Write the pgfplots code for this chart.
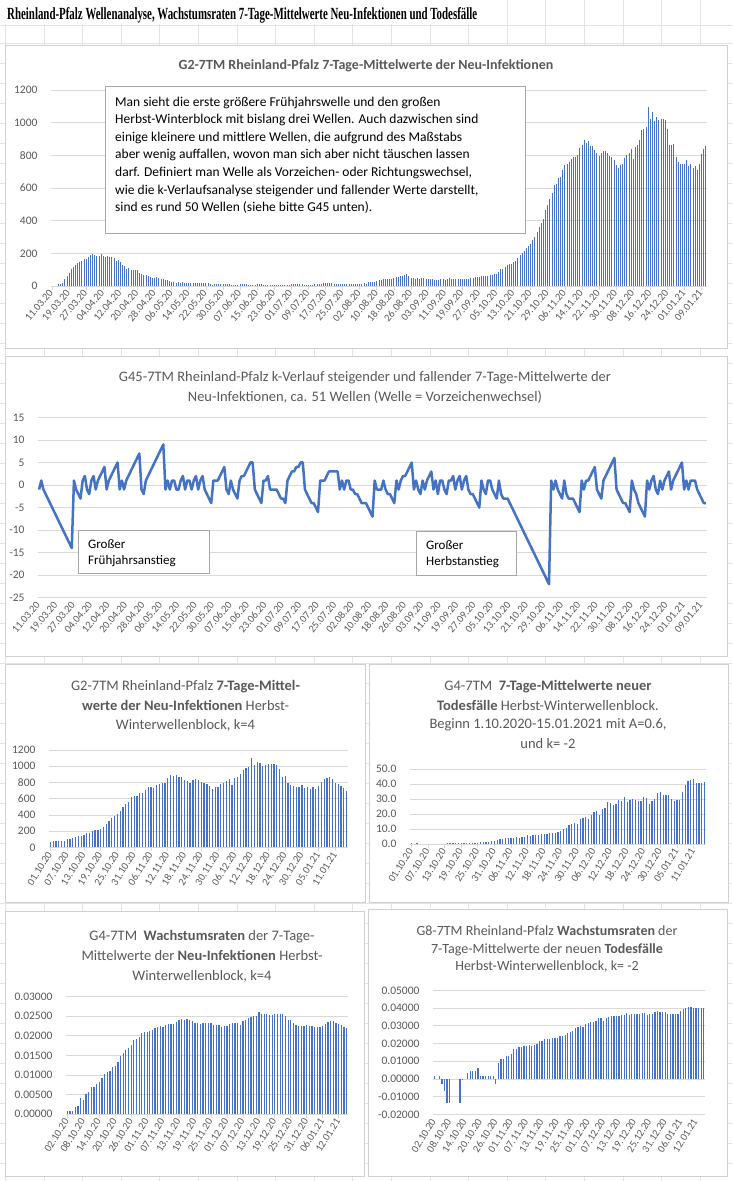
\documentclass[border=0pt]{standalone}
\usepackage{fontspec}
\setmainfont{Carlito}
\newfontfamily\timesfont{Liberation Serif}
\usepackage{pgfplots}
\pgfplotsset{compat=1.18}
\usepackage{pgfplotstable}

\definecolor{bar}{HTML}{4472C4}
\definecolor{txt}{HTML}{595959}
\definecolor{gridc}{HTML}{D9D9D9}
\definecolor{frame}{HTML}{D0D0D0}
\definecolor{cell}{HTML}{E3E3E3}
\definecolor{boxc}{HTML}{A6A6A6}

% G2: 7-day means of new infections, 11.03.20 .. 11.01.21 (one value per day)
\pgfplotstableread[row sep=\\]{y\\
0\\0\\0\\10\\10\\18\\40\\60\\82\\103\\117\\128\\138\\146\\152\\163\\165\\175\\190\\196\\
190\\183\\185\\196\\183\\179\\183\\179\\175\\173\\155\\159\\144\\128\\122\\107\\113\\101\\101\\97\\
95\\82\\76\\70\\70\\62\\56\\51\\49\\56\\49\\45\\43\\39\\35\\29\\25\\23\\21\\
23\\19\\23\\19\\19\\17\\17\\17\\21\\17\\17\\17\\17\\17\\17\\12\\8\\
10\\12\\12\\12\\12\\12\\10\\10\\8\\8\\8\\8\\12\\12\\12\\10\\8\\8\\8\\8\\10\\10\\10\\8\\8\\8\\8\\8\\8\\8\\8\\8\\
6\\6\\6\\8\\10\\10\\10\\10\\10\\10\\6\\5\\5\\5\\8\\10\\10\\14\\14\\18\\18\\18\\18\\18\\14\\
10\\10\\10\\10\\10\\10\\10\\10\\10\\10\\10\\12\\12\\18\\10\\25\\25\\25\\27\\32\\35\\35\\
41\\43\\45\\45\\43\\50\\55\\58\\60\\62\\66\\72\\60\\52\\52\\41\\49\\45\\49\\49\\45\\41\\
45\\45\\39\\39\\39\\45\\45\\38\\45\\52\\45\\45\\45\\45\\45\\45\\45\\45\\45\\50\\50\\
54\\54\\54\\60\\60\\60\\60\\66\\
69\\71\\75\\86\\102\\106\\114\\126\\133\\137\\
147\\155\\171\\188\\204\\212\\233\\243\\259\\279\\
300\\330\\361\\386\\412\\463\\498\\534\\569\\616\\
626\\661\\667\\708\\738\\745\\759\\775\\790\\790\\
800\\845\\861\\891\\877\\885\\857\\857\\830\\816\\
794\\816\\824\\824\\816\\796\\790\\769\\738\\722\\
743\\749\\783\\800\\816\\840\\779\\851\\861\\891\\
957\\963\\973\\1095\\1024\\1065\\1008\\1034\\1014\\1024\\
1020\\1014\\963\\861\\861\\871\\790\\759\\749\\745\\
745\\769\\734\\749\\722\\734\\708\\749\\810\\840\\
855\\
}\tA

% G45: k-course of rising and falling 7-day means
\pgfplotstableread[row sep=\\]{y\\
-1\\1\\-1\\-2\\-3\\-4\\-5\\-6\\-7\\-8\\-9\\-10\\-11\\-12\\-13\\-14\\1\\
-1\\-2\\-3\\1\\2\\-1\\-2\\1\\2\\-1\\1\\2\\3\\4\\
-1\\1\\2\\3\\4\\5\\-1\\1\\-1\\
1\\2\\3\\4\\5\\6\\7\\
-1\\-2\\1\\2\\3\\4\\5\\6\\7\\8\\9\\
-1\\1\\-1\\1\\1\\-1\\-1\\1\\2\\-1\\1\\1\\-1\\1\\2\\-1\\1\\2\\
-1\\-2\\-3\\-4\\1\\1\\1\\2\\3\\4\\-1\\-2\\1\\-1\\-2\\-3\\
1\\2\\2\\3\\4\\5\\5\\-1\\-2\\-3\\-4\\1\\1\\2\\
-1\\-1\\-1\\-1\\-2\\-3\\-3\\-4\\1\\2\\3\\3\\4\\4\\5\\5\\
-1\\-2\\-3\\-4\\-4\\-5\\-6\\1\\1\\1\\2\\3\\3\\3\\3\\3\\
-1\\1\\-1\\1\\1\\-1\\-1\\-2\\-2\\-3\\-4\\-4\\-4\\
-5\\-6\\-7\\1\\-1\\-1\\-1\\1\\-1\\-2\\-2\\-3\\-4\\
1\\-1\\1\\2\\2\\3\\4\\5\\-1\\1\\-1\\-2\\1\\-1\\1\\2\\3\\
-1\\1\\-2\\1\\1\\-1\\-2\\1\\1\\2\\-1\\1\\2\\-1\\1\\2\\
-1\\-2\\-2\\-3\\-4\\-5\\1\\-1\\-2\\1\\1\\-1\\-2\\-3\\1\\-2\\-3\\-3\\-3\\
-4\\-5\\-6\\-7\\-8\\-9\\-10\\-11\\-12\\-13\\-14\\-15\\-16\\-17\\-18\\-19\\-20\\-21\\-22\\
1\\-1\\1\\-1\\-2\\-3\\1\\-2\\-3\\-3\\-3\\-4\\-5\\-6\\
1\\-1\\1\\1\\2\\3\\4\\-1\\-2\\-3\\1\\2\\3\\4\\5\\6\\
-1\\-2\\-3\\-4\\-4\\-5\\-6\\1\\-1\\-2\\-4\\-5\\-6\\-7\\
1\\-1\\1\\2\\-1\\-2\\1\\-1\\1\\2\\3\\-1\\1\\2\\3\\4\\5\\
-1\\1\\-1\\1\\1\\1\\-1\\-2\\-3\\-4\\-4\\
}\tB

% G2 autumn/winter block, 01.10.20 .. 15.01.21
\pgfplotstableread[row sep=\\]{y\\
70\\78\\78\\78\\78\\78\\103\\103\\119\\132\\
140\\144\\156\\173\\181\\201\\214\\214\\230\\247\\
288\\321\\358\\390\\411\\452\\501\\534\\563\\617\\
633\\633\\674\\674\\707\\748\\740\\727\\764\\781\\
789\\797\\851\\892\\880\\892\\871\\863\\830\\818\\
797\\830\\838\\830\\810\\789\\781\\756\\715\\748\\
748\\781\\797\\822\\838\\769\\851\\871\\904\\953\\
974\\986\\1097\\1015\\1056\\1036\\1003\\1015\\1023\\1023\\
1023\\1015\\962\\863\\880\\797\\769\\756\\748\\748\\
769\\727\\740\\715\\740\\715\\760\\810\\838\\851\\
863\\838\\797\\781\\756\\727\\699\\
}\tC

% G4: 7-day means of new deaths, 01.10.20 .. 15.01.21
\pgfplotstableread[row sep=\\]{y\\
0.8\\0\\0.8\\0\\0\\0\\0\\0\\0\\0\\0\\0\\0\\
0.6\\0.6\\0.6\\0.6\\0.6\\0.6\\0.6\\0.6\\0.6\\0.6\\0.6\\0.6\\
1.2\\1.2\\1.5\\1.5\\2.0\\2.2\\3.0\\3.3\\3.5\\3.8\\
4.0\\4.0\\4.2\\4.7\\4.0\\4.5\\5.0\\6.0\\5.5\\6.0\\
6.0\\6.2\\6.5\\6.8\\7.0\\7.2\\7.5\\7.5\\8.0\\9.0\\
10.2\\10.5\\12.8\\13.5\\14.2\\13.5\\16.5\\17.5\\18.0\\17.0\\
19.5\\21.5\\22.2\\19.5\\23.5\\24.2\\28.2\\27.5\\25.8\\26.5\\
29.5\\28.8\\31.3\\28.3\\29.5\\30.0\\29.5\\28.8\\29.0\\31.3\\
30.8\\27.0\\29.0\\30.0\\34.0\\34.5\\32.8\\32.8\\32.8\\30.0\\
29.0\\29.5\\29.5\\34.8\\39.8\\42.3\\43.0\\43.7\\41.0\\41.0\\
41.0\\41.8\\
}\tD

% G4: growth rates of the 7-day means of new infections, 02.10.20 .. 15.01.21
\pgfplotstableread[row sep=\\]{y\\
0.0008\\0.0008\\0.0008\\0.0017\\0.0020\\0.0040\\0.0037\\0.0050\\0.0056\\0.0068\\
0.0068\\0.0078\\0.0083\\0.0091\\0.0102\\0.0108\\0.0110\\0.0119\\0.0124\\0.0132\\
0.0148\\0.0155\\0.0164\\0.0168\\0.0176\\0.0189\\0.0193\\0.0198\\0.0206\\0.0209\\
0.0210\\0.0213\\0.0215\\0.0219\\0.0223\\0.0225\\0.0223\\0.0227\\0.0229\\0.0229\\
0.0229\\0.0236\\0.0240\\0.0243\\0.0240\\0.0242\\0.0240\\0.0239\\0.0234\\0.0234\\
0.0230\\0.0233\\0.0233\\0.0233\\0.0232\\0.0228\\0.0228\\0.0227\\0.0223\\0.0225\\
0.0225\\0.0230\\0.0233\\0.0234\\0.0234\\0.0227\\0.0239\\0.0240\\0.0245\\0.0249\\
0.0250\\0.0250\\0.0260\\0.0255\\0.0257\\0.0256\\0.0253\\0.0253\\0.0255\\0.0255\\
0.0256\\0.0255\\0.0250\\0.0240\\0.0240\\0.0232\\0.0227\\0.0225\\0.0225\\0.0225\\
0.0227\\0.0225\\0.0225\\0.0223\\0.0223\\0.0222\\0.0225\\0.0230\\0.0236\\0.0238\\
0.0239\\0.0234\\0.0230\\0.0228\\0.0223\\0.0219\\
}\tE

% G8: growth rates of the 7-day means of new deaths, 02.10.20 .. 15.01.21
\pgfplotstableread[row sep=\\]{y\\
0.0018\\0\\0.0018\\-0.0030\\-0.0068\\-0.0135\\-0.0135\\0\\0\\0\\
-0.0135\\-0.0005\\0\\0.0034\\0.0045\\0.0045\\0.0045\\0.0062\\0.0018\\0.0018\\
0.0018\\0.0018\\0.0018\\0.0018\\-0.0030\\0.0092\\0.0113\\0.0113\\0.0130\\0.0130\\
0.0141\\0.0169\\0.0169\\0.0182\\0.0182\\0.0186\\0.0186\\0.0194\\0.0188\\0.0194\\
0.0197\\0.0212\\0.0212\\0.0224\\0.0224\\0.0224\\0.0229\\0.0233\\0.0233\\0.0243\\
0.0243\\0.0248\\0.0258\\0.0263\\0.0271\\0.0290\\0.0295\\0.0301\\0.0295\\0.0312\\
0.0318\\0.0320\\0.0323\\0.0329\\0.0342\\0.0342\\0.0327\\0.0344\\0.0348\\0.0357\\
0.0357\\0.0353\\0.0353\\0.0363\\0.0363\\0.0370\\0.0363\\0.0367\\0.0367\\0.0367\\
0.0367\\0.0370\\0.0370\\0.0363\\0.0367\\0.0367\\0.0376\\0.0382\\0.0378\\0.0378\\
0.0378\\0.0367\\0.0367\\0.0367\\0.0367\\0.0367\\0.0384\\0.0395\\0.0402\\0.0406\\
0.0408\\0.0400\\0.0400\\0.0400\\0.0400\\0.0400\\
}\tF

\pgfplotsset{
  panel/.style={
    scale only axis, anchor=south west, clip=false,
    axis line style={draw=none},
    ymajorgrids, grid style={draw=gridc, line width=0.75pt},
    xtick pos=bottom, ytick pos=left,
    xtick style={draw=gridc, line width=0.75pt},
    ytick style={draw=none},
    major tick length=4pt, tick align=outside,
    tick label style={font=\fontsize{11.5}{13}\selectfont, text=txt},
    xticklabel style={font=\fontsize{10.5}{12}\selectfont, rotate=58, anchor=east, inner sep=1.5pt},
    yticklabel style={xshift=-6pt},
    /pgf/number format/assume math mode=true,
    /pgf/number format/1000 sep={},
  },
  longdates/.style={
    xmin=-0.5, xmax=306.5, xtick={0,8,...,304},
    xticklabel style={rotate=-8},
    xticklabels={11.03.20,19.03.20,27.03.20,04.04.20,12.04.20,20.04.20,28.04.20,06.05.20,14.05.20,22.05.20,30.05.20,07.06.20,15.06.20,23.06.20,01.07.20,09.07.20,17.07.20,25.07.20,02.08.20,10.08.20,18.08.20,26.08.20,03.09.20,11.09.20,19.09.20,27.09.20,05.10.20,13.10.20,21.10.20,29.10.20,06.11.20,14.11.20,22.11.20,30.11.20,08.12.20,16.12.20,24.12.20,01.01.21,09.01.21},
  },
  octdates/.style={
    xmin=-0.5, xmax=106.5, xtick={0,6,...,102},
    xticklabels={01.10.20,07.10.20,13.10.20,19.10.20,25.10.20,31.10.20,06.11.20,12.11.20,18.11.20,24.11.20,30.11.20,06.12.20,12.12.20,18.12.20,24.12.20,30.12.20,05.01.21,11.01.21},
  },
  rate dates/.style={
    xmin=-0.5, xmax=105.5, xtick={0,6,...,102},
    xticklabels={02.10.20,08.10.20,14.10.20,20.10.20,26.10.20,01.11.20,07.11.20,13.11.20,19.11.20,25.11.20,01.12.20,07.12.20,13.12.20,19.12.20,25.12.20,31.12.20,06.01.21,12.01.21},
  },
}

\begin{document}
\begin{tikzpicture}
\useasboundingbox (0,0) rectangle (732pt,-1181pt);
\fill[white] (0,0) rectangle (732pt,-1181pt);
% spreadsheet cells behind the charts
\foreach \k in {0,...,18}
  \draw[cell, line width=0.8pt] ({(5.4+38.6*\k)*1pt},0) -- ({(5.4+38.6*\k)*1pt},-1181pt);
\draw[cell, line width=0.8pt] (0,-25pt) -- (732pt,-25pt);
\foreach \k in {0,...,57}
  \draw[cell, line width=0.8pt] (0,{-(43+20*\k)*1pt}) -- (732pt,{-(43+20*\k)*1pt});
\fill[white] (0,0) rectangle (479pt,-24.4pt);
\node[anchor=base west, inner sep=0pt] at (7pt,-19.5pt)
  {\resizebox{470pt}{12pt}{\timesfont\bfseries Rheinland-Pfalz Wellenanalyse, Wachstumsraten 7-Tage-Mittelwerte Neu-Infektionen und Todesfälle}};

% chart frames
\filldraw[fill=white, draw=frame, line width=0.8pt] (5.5pt,-45pt) rectangle (727pt,-348pt);
\filldraw[fill=white, draw=frame, line width=0.8pt] (5.5pt,-356pt) rectangle (727pt,-656pt);
\filldraw[fill=white, draw=frame, line width=0.8pt] (5.5pt,-664pt) rectangle (365pt,-902pt);
\filldraw[fill=white, draw=frame, line width=0.8pt] (369pt,-664pt) rectangle (728pt,-902pt);
\filldraw[fill=white, draw=frame, line width=0.8pt] (5.5pt,-911pt) rectangle (364pt,-1176pt);
\filldraw[fill=white, draw=frame, line width=0.8pt] (368pt,-909pt) rectangle (727pt,-1176pt);

% ---- G2 full period
\begin{axis}[panel, longdates, at={(51pt,-286pt)}, width=656pt, height=196pt,
  ymin=0, ymax=1200, ytick={0,200,...,1200}]
\addplot[ycomb, draw=bar, line width=1.0pt, mark=none] table[x expr=\coordindex, y=y]{\tA};
\end{axis}
\node[anchor=base, font=\fontsize{14}{16}\selectfont\bfseries, text=txt] at (366pt,-69pt)
  {G2-7TM Rheinland-Pfalz 7-Tage-Mittelwerte der Neu-Infektionen};
\filldraw[fill=white, draw=boxc, line width=0.8pt] (105.7pt,-86pt) rectangle (525pt,-233pt);
\begin{scope}[every node/.style={anchor=base west, inner sep=0pt, font=\fontsize{13.5}{16}\selectfont}]
\node at (115pt,-106pt) {Man sieht die erste größere Frühjahrswelle und den großen};
\node at (115pt,-123.6pt) {Herbst-Winterblock mit bislang drei Wellen. Auch dazwischen sind};
\node at (115pt,-141.2pt) {einige kleinere und mittlere Wellen, die aufgrund des Maßstabs};
\node at (115pt,-158.8pt) {aber wenig auffallen, wovon man sich aber nicht täuschen lassen};
\node at (115pt,-176.4pt) {darf. Definiert man Welle als Vorzeichen- oder Richtungswechsel,};
\node at (115pt,-194pt) {wie die k-Verlaufsanalyse steigender und fallender Werte darstellt,};
\node at (115pt,-211.6pt) {sind es rund 50 Wellen (siehe bitte G45 unten).};
\end{scope}

% ---- G45 k-course
\begin{axis}[panel, longdates, at={(38pt,-597.7pt)}, width=669pt, height=180.3pt,
  ymin=-25, ymax=15, ytick={-25,-20,...,15}, xtick style={draw=none}]
\addplot[draw=bar, line width=2.5pt, mark=none, line join=round] table[x expr=\coordindex, y=y]{\tB};
\end{axis}
\begin{scope}[every node/.style={anchor=base, inner sep=0pt, font=\fontsize{14.5}{16}\selectfont, text=txt}]
\node at (365pt,-381.5pt) {G45-7TM Rheinland-Pfalz k-Verlauf steigender und fallender 7-Tage-Mittelwerte der};
\node at (365pt,-401.5pt) {Neu-Infektionen, ca. 51 Wellen (Welle = Vorzeichenwechsel)};
\end{scope}
\filldraw[fill=white, draw=boxc, line width=0.8pt] (78.3pt,-530.7pt) rectangle (209.3pt,-573.3pt);
\filldraw[fill=white, draw=boxc, line width=0.8pt] (416.3pt,-531.7pt) rectangle (516.3pt,-575pt);
\begin{scope}[every node/.style={anchor=base west, inner sep=0pt, font=\fontsize{13}{15}\selectfont}]
\node at (88pt,-548.5pt) {Großer};
\node at (88pt,-564pt) {Frühjahrsanstieg};
\node at (426pt,-549.5pt) {Großer};
\node at (426pt,-565pt) {Herbstanstieg};
\end{scope}

% ---- G2 autumn/winter block
\begin{axis}[panel, octdates, at={(49pt,-847.3pt)}, width=299pt, height=97.3pt,
  ymin=0, ymax=1200, ytick={0,200,...,1200}]
\addplot[ycomb, draw=bar, line width=1.25pt, mark=none] table[x expr=\coordindex, y=y]{\tC};
\end{axis}
\begin{scope}[every node/.style={anchor=base, inner sep=0pt, font=\fontsize{14.5}{16}\selectfont, text=txt}]
\node at (185.5pt,-690pt) {G2-7TM Rheinland-Pfalz \textbf{7-Tage-Mittel-}};
\node at (185.5pt,-710pt) {\textbf{werte der Neu-Infektionen} Herbst-};
\node at (185.5pt,-729pt) {Winterwellenblock, k=4};
\end{scope}

% ---- G4 deaths
\begin{axis}[panel, octdates, at={(410pt,-844pt)}, width=296pt, height=74.7pt,
  ymin=0, ymax=50, ytick={0,10,...,50},
  yticklabel style={/pgf/number format/.cd, fixed, fixed zerofill, precision=1}]
\addplot[ycomb, draw=bar, line width=1.25pt, mark=none] table[x expr=\coordindex, y=y]{\tD};
\end{axis}
\begin{scope}[every node/.style={anchor=base, inner sep=0pt, font=\fontsize{14.5}{16}\selectfont, text=txt}]
\node at (548pt,-690pt) {G4-7TM\ \ \textbf{7-Tage-Mittelwerte neuer}};
\node at (548pt,-710pt) {\textbf{Todesfälle} Herbst-Winterwellenblock.};
\node at (548pt,-728pt) {Beginn 1.10.2020-15.01.2021 mit A=0.6,};
\node at (548pt,-748pt) {und k= -2};
\end{scope}

% ---- G4 growth rates infections
\begin{axis}[panel, rate dates, at={(66pt,-1114pt)}, width=282pt, height=117.3pt,
  ymin=0, ymax=0.03, ytick={0,0.005,...,0.0301}, scaled y ticks=false,
  yticklabel style={/pgf/number format/.cd, fixed, fixed zerofill, precision=5}]
\addplot[ycomb, draw=bar, line width=1.25pt, mark=none] table[x expr=\coordindex, y=y]{\tE};
\end{axis}
\begin{scope}[every node/.style={anchor=base, inner sep=0pt, font=\fontsize{14.5}{16}\selectfont, text=txt}]
\node at (202pt,-940pt) {G4-7TM\ \ \textbf{Wachstumsraten} der 7-Tage-};
\node at (202pt,-960pt) {Mittelwerte der \textbf{Neu-Infektionen} Herbst-};
\node at (202pt,-980pt) {Winterwellenblock, k=4};
\end{scope}

% ---- G8 growth rates deaths
\begin{axis}[panel, rate dates, at={(433pt,-1114.3pt)}, width=272pt, height=124pt,
  ymin=-0.02, ymax=0.05, ytick={-0.02,-0.01,...,0.0501}, scaled y ticks=false,
  xtick style={draw=none},
  yticklabel style={/pgf/number format/.cd, fixed, fixed zerofill, precision=5}]
\addplot[ycomb, draw=bar, line width=1.25pt, mark=none] table[x expr=\coordindex, y=y]{\tF};
\end{axis}
\begin{scope}[every node/.style={anchor=base, inner sep=0pt, font=\fontsize{14}{16}\selectfont, text=txt}]
\node at (547pt,-935.5pt) {G8-7TM Rheinland-Pfalz \textbf{Wachstumsraten} der};
\node at (547pt,-953pt) {7-Tage-Mittelwerte der neuen \textbf{Todesfälle}};
\node at (547pt,-970.5pt) {Herbst-Winterwellenblock, k= -2};
\end{scope}
\end{tikzpicture}
\end{document}
